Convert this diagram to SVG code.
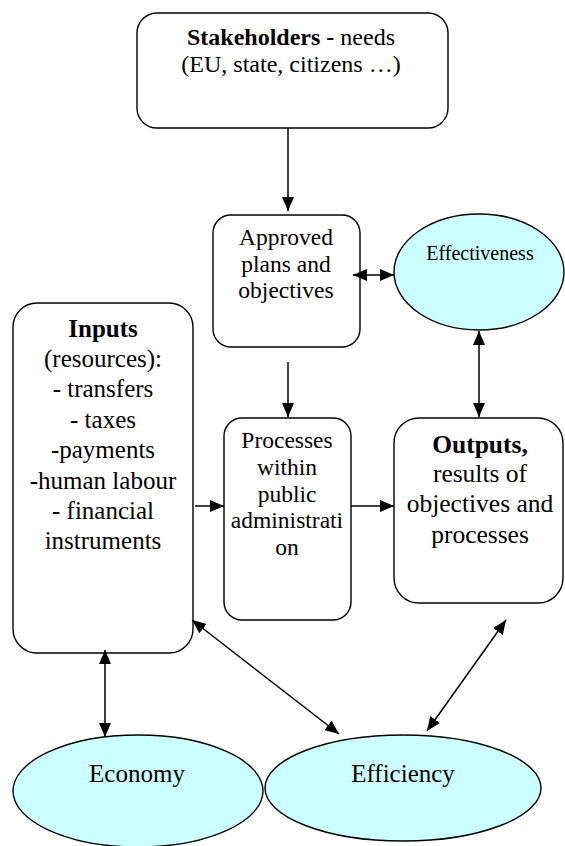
<svg xmlns="http://www.w3.org/2000/svg" width="565" height="846" viewBox="0 0 565 846">
<style>
.box{fill:#fff;stroke:#000;stroke-width:1.4}
.ell{fill:#ccffff;stroke:#000;stroke-width:1.4}
text{font-family:"Liberation Serif","Times New Roman",serif;fill:#000;text-anchor:middle}
.b{font-weight:bold}
.c{stroke:#000;stroke-width:1.5;fill:none}
</style>
<defs>
<marker id="ah" markerUnits="userSpaceOnUse" markerWidth="14" markerHeight="12" viewBox="0 0 14 12" refX="14" refY="6" orient="auto-start-reverse">
<path d="M0,0 L14,6 L0,12 z" fill="#000"/>
</marker>
</defs>
<rect width="565" height="846" fill="#fff"/>
<g id="stakeholders">
<rect class="box" x="137" y="13" width="311" height="115" rx="20"/>
<text x="291" y="45" font-size="24"><tspan class="b">Stakeholders - </tspan>needs</text>
<text x="291" y="72" font-size="24">(EU, state, citizens …)</text>
</g>
<g id="approved">
<rect class="box" x="213" y="215" width="147" height="132" rx="18"/>
<text font-size="23.5"><tspan x="286" y="245">Approved</tspan><tspan x="286" y="272">plans and</tspan><tspan x="286" y="298">objectives</tspan></text>
</g>
<g id="effectiveness">
<ellipse class="ell" cx="479" cy="272" rx="85" ry="58"/>
<text x="480" y="260" font-size="20">Effectiveness</text>
</g>
<g id="inputs">
<rect class="box" x="13" y="303" width="180" height="350" rx="24"/>
<text font-size="25"><tspan x="103" y="337" class="b">Inputs</tspan><tspan x="103" y="367">(resources):</tspan><tspan x="103" y="397">- transfers</tspan><tspan x="103" y="428">- taxes</tspan><tspan x="103" y="458">-payments</tspan><tspan x="103" y="489">-human labour</tspan><tspan x="103" y="519">- financial</tspan><tspan x="103" y="549">instruments</tspan></text>
</g>
<g id="processes">
<rect class="box" x="224" y="418" width="127" height="202" rx="18"/>
<text font-size="23.5"><tspan x="287" y="448">Processes</tspan><tspan x="287" y="475">within</tspan><tspan x="287" y="502">public</tspan><tspan x="287" y="528">administrati</tspan><tspan x="287" y="555">on</tspan></text>
</g>
<g id="outputs">
<rect class="box" x="394" y="418" width="169" height="185" rx="25"/>
<text font-size="25.5"><tspan x="480" y="453" class="b">Outputs,</tspan><tspan x="480" y="482">results of</tspan><tspan x="480" y="512">objectives and</tspan><tspan x="480" y="543">processes</tspan></text>
</g>
<g id="economy">
<ellipse class="ell" cx="138" cy="791" rx="125" ry="56"/>
<text x="137" y="782" font-size="25">Economy</text>
</g>
<g id="efficiency">
<ellipse class="ell" cx="403" cy="788" rx="138" ry="53"/>
<text x="403" y="782" font-size="25">Efficiency</text>
</g>
<g id="connectors">
<line class="c" x1="288" y1="128" x2="288" y2="211" marker-end="url(#ah)"/>
<line class="c" x1="353" y1="275" x2="394" y2="275" marker-start="url(#ah)" marker-end="url(#ah)"/>
<line class="c" x1="288" y1="362" x2="288" y2="417" marker-end="url(#ah)"/>
<line class="c" x1="479" y1="331" x2="479" y2="417" marker-start="url(#ah)" marker-end="url(#ah)"/>
<line class="c" x1="195" y1="506" x2="224" y2="506" marker-end="url(#ah)"/>
<line class="c" x1="351" y1="506" x2="394" y2="506" marker-end="url(#ah)"/>
<line class="c" x1="105" y1="650" x2="105" y2="737" marker-start="url(#ah)" marker-end="url(#ah)"/>
<line class="c" x1="192" y1="620" x2="339" y2="734" marker-start="url(#ah)" marker-end="url(#ah)"/>
<line class="c" x1="506" y1="620" x2="427" y2="731" marker-start="url(#ah)" marker-end="url(#ah)"/>
</g>
</svg>
